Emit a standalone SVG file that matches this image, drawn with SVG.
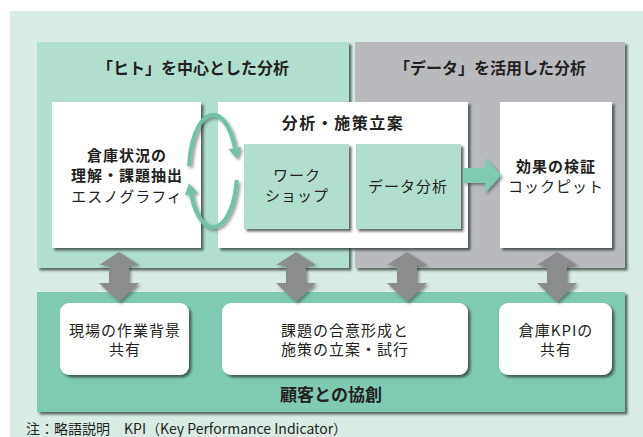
<svg xmlns="http://www.w3.org/2000/svg" width="643" height="437" viewBox="0 0 643 437">
<defs>
<filter id="sh" x="-10%" y="-10%" width="130%" height="130%">
<feDropShadow dx="2.5" dy="2.5" stdDeviation="1.2" flood-color="#2f3a36" flood-opacity="0.75"/>
</filter>
<filter id="sh2" x="-20%" y="-20%" width="150%" height="150%">
<feDropShadow dx="2" dy="2" stdDeviation="1.5" flood-color="#333" flood-opacity="0.5"/>
</filter>
<marker id="ah" markerUnits="userSpaceOnUse" markerWidth="14" markerHeight="14" viewBox="0 -7 12 14" refX="0" refY="0" orient="auto">
<path d="M0,-6.5 L11,0 L0,6.5 z" fill="#6fc3a8"/>
</marker>
</defs>
<style>
text{font-family:"Noto Sans CJK JP","Noto Sans",sans-serif;fill:#231f20;text-anchor:middle}
.b{font-weight:bold}
.t{font-size:16px;font-weight:bold}
.m{font-size:15px;letter-spacing:1px}
.g{fill:#8b8c8e}
.white{fill:#ffffff}
.lg{fill:#b2dece}
</style>
<rect x="10" y="11" width="633" height="426" fill="#d9ece4"/>

<g id="panel-human">
<rect x="37" y="42" width="312" height="226" fill="#b2dece" filter="url(#sh)"/>
<text class="t" x="193" y="74">「ヒト」を中心とした分析</text>
</g>
<g id="panel-data">
<rect x="355" y="42" width="270" height="226" fill="#b9babe" filter="url(#sh)"/>
<text class="t" x="490" y="74">「データ」を活用した分析</text>
</g>
<g id="panel-cocreation">
<rect x="37" y="292" width="588" height="120" fill="#7ecab3" filter="url(#sh)"/>
<text class="t" x="331" y="401" style="font-size:17px">顧客との協創</text>
</g>

<g id="box-ethnography">
<rect x="52" y="102" width="149" height="146" class="white" filter="url(#sh)"/>
<text class="m b" x="127" y="161">倉庫状況の</text>
<text class="m b" x="127" y="181">理解・課題抽出</text>
<text class="m" x="127" y="202">エスノグラフィ</text>
</g>
<g id="box-analysis">
<rect x="218" y="102" width="250" height="146" class="white" filter="url(#sh)"/>
<text class="t" x="343" y="129" style="letter-spacing:1.5px">分析・施策立案</text>
</g>
<g id="box-workshop">
<rect x="244" y="144" width="105" height="85" class="lg" filter="url(#sh)"/>
<text class="m" x="297" y="181">ワーク</text>
<text class="m" x="297" y="201">ショップ</text>
</g>
<g id="box-dataanalysis">
<rect x="356" y="144" width="105" height="85" class="lg" filter="url(#sh)"/>
<text class="m" x="408" y="192">データ分析</text>
</g>
<g id="box-verify">
<rect x="500" y="102" width="112" height="146" class="white" filter="url(#sh)"/>
<text class="m b" x="556" y="172">効果の検証</text>
<text class="m" x="556" y="192">コックピット</text>
</g>

<g id="box-share">
<rect x="60" y="303" width="129" height="72" rx="9" class="white" filter="url(#sh)"/>
<text class="m" x="125" y="336">現場の作業背景</text>
<text class="m" x="125" y="355">共有</text>
</g>
<g id="box-consensus">
<rect x="222" y="303" width="246" height="72" rx="9" class="white" filter="url(#sh)"/>
<text class="m" x="345" y="336">課題の合意形成と</text>
<text class="m" x="345" y="355">施策の立案・試行</text>
</g>
<g id="box-kpi">
<rect x="499" y="303" width="113" height="72" rx="9" class="white" filter="url(#sh)"/>
<text class="m" x="556" y="336">倉庫KPIの</text>
<text class="m" x="556" y="355">共有</text>
</g>

<g id="connectors">
<g filter="url(#sh2)" class="g">
<path d="M119,252 L139,265 L129,265 L129,283 L139,283 L119,302 L99,283 L109,283 L109,265 L99,265 Z"/>
<path d="M296,252 L316,265 L306,265 L306,283 L316,283 L296,302 L276,283 L286,283 L286,265 L276,265 Z"/>
<path d="M407,252 L427,265 L417,265 L417,283 L427,283 L407,302 L387,283 L397,283 L397,265 L387,265 Z"/>
<path d="M557,252 L577,265 L567,265 L567,283 L577,283 L557,302 L537,283 L547,283 L547,265 L537,265 Z"/>
</g>
<path d="M463,168 L485,168 L485,158 L501,175.5 L485,193 L485,183 L463,183 Z" fill="#7ecab3" filter="url(#sh2)"/>
<g fill="none" stroke="#6fc3a8" stroke-width="4" filter="url(#sh2)">
<path d="M189.1,166 A24,56 0 0 1 234.9,148" marker-end="url(#ah)"/>
<path d="M236.7,180 A24,56 0 0 1 191.1,194" marker-end="url(#ah)"/>
</g>
</g>

<text x="26" y="434" style="font-size:14px;text-anchor:start">注：略語説明　KPI（Key Performance Indicator）</text>
</svg>
